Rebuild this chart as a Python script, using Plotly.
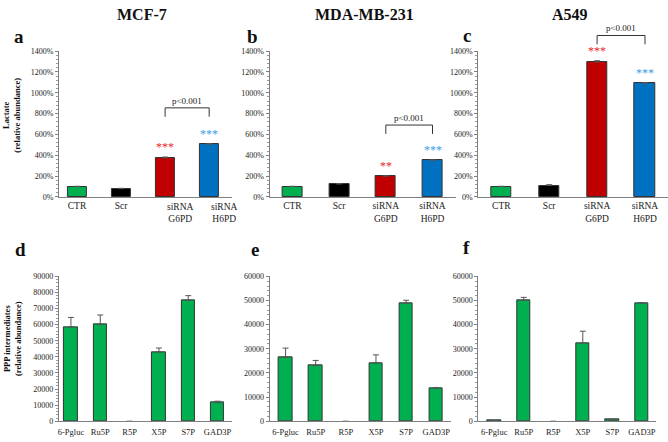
import plotly.graph_objects as go

# ---------------- data ----------------
cell_lines = ["MCF-7", "MDA-MB-231", "A549"]
panel_letters = ["a", "b", "c", "d", "e", "f"]

top_cats = ["CTR", "Scr", "siRNA<br>G6PD", "siRNA<br>H6PD"]
top_colors = ["#00b050", "#000000", "#c00000", "#0070c0"]

mcf7_lactate = [100, 80, 375, 505]
mcf7_lactate_err = [3, 3, 8, 8]
mda_lactate = [100, 125, 200, 350]
mda_lactate_err = [3, 4, 4, 8]
a549_lactate = [100, 110, 1295, 1090]
a549_lactate_err = [3, 8, 12, 8]

mcf7_stars = ["", "", "***", "***"]
mda_stars = ["", "", "**", "***"]
a549_stars = ["", "", "***", "***"]
star_colors = ["#e8262b", "#e8262b", "#e8262b", "#3d9be3"]

pvalue_text = "p<0.001"
bracket_top = [855, 690, 1549]   # bracket height (lactate %) per panel

ppp_cats = ["6-Pgluc", "Ru5P", "R5P", "X5P", "S7P", "GAD3P"]
mcf7_ppp = [58500, 60000, 0, 43000, 75000, 11500]
mcf7_ppp_err = [6000, 6000, 0, 2500, 3000, 1000]
mda_ppp = [26500, 23000, 0, 24200, 48800, 13800]
mda_ppp_err = [3800, 2200, 0, 3300, 1300, 0]
a549_ppp = [300, 50000, 0, 32300, 700, 49000]
a549_ppp_err = [0, 1300, 0, 5000, 0, 0]

# ---------------- layout geometry ----------------
W, H = 668, 442
FONT = "Times New Roman, Liberation Serif, DejaVu Serif, serif"

def px(x):
    return x / W

def py(y):
    return 1 - y / H

top_x_dom = [(58, 231), (269, 456), (478, 668)]
bot_x_dom = [(58, 231), (269, 451), (478, 656)]
top_y_dom = (197, 48)
bot_y_dom = (426, 278)
top_ranges = [[-0.41, 3.51], [-0.49, 3.51], [-0.48, 3.48]]
bot_ranges = [[-0.41, 5.48], [-0.53, 5.5], [-0.54, 5.48]]
bot_ymax = [90000, 60000, 60000]

fig = go.Figure()

top_vals = [mcf7_lactate, mda_lactate, a549_lactate]
top_errs = [mcf7_lactate_err, mda_lactate_err, a549_lactate_err]
top_stars = [mcf7_stars, mda_stars, a549_stars]
bot_vals = [mcf7_ppp, mda_ppp, a549_ppp]
bot_errs = [mcf7_ppp_err, mda_ppp_err, a549_ppp_err]

annotations = []
shapes = []

axis_common = dict(
    showline=True, linecolor="#7f7f7f", linewidth=1, showgrid=False,
    zeroline=False, tickfont=dict(family=FONT, size=8, color="#222"),
)

def note(**kw):
    base = dict(showarrow=False, xanchor="center", yanchor="middle")
    base.update(kw)
    annotations.append(base)

for i in range(3):
    # ---------- top row ----------
    n = 1 + i
    xa, ya = ("x" if n == 1 else f"x{n}"), ("y" if n == 1 else f"y{n}")
    labels = list(top_cats)
    if i == 0:
        # in panel a the siRNA labels sit offset to the right of their bars
        for k, l in enumerate(top_cats):
            if "siRNA" in l:
                note(x=k, xref=xa, xshift=15, y=py(top_y_dom[0]), yref="paper",
                     yanchor="top", yshift=-3, text=l,
                     font=dict(family=FONT, size=9.5, color="#222"))
        labels = ["" if "siRNA" in l else l for l in top_cats]
    fig.add_trace(go.Bar(
        x=list(range(4)), y=top_vals[i], xaxis=xa, yaxis=ya,
        marker=dict(color=top_colors, line=dict(color="#333333", width=1)),
        width=0.43,
        error_y=dict(type="data", symmetric=False, array=top_errs[i],
                     arrayminus=[0] * 4, color="#555555", thickness=1, width=3),
        showlegend=False, hoverinfo="skip",
    ))
    fig.update_layout(**{
        ("xaxis" if n == 1 else f"xaxis{n}"): dict(
            axis_common, domain=[px(top_x_dom[i][0]), px(top_x_dom[i][1])],
            anchor=ya, range=top_ranges[i], tickmode="array",
            tickvals=list(range(4)), ticktext=labels, ticks="", tickangle=0,
            tickfont=dict(family=FONT, size=9.5, color="#222"),
        ),
        ("yaxis" if n == 1 else f"yaxis{n}"): dict(
            axis_common, domain=[py(top_y_dom[0]), py(top_y_dom[1])],
            anchor=xa, range=[0, 1400], dtick=200, ticksuffix="%",
            ticks="outside", ticklen=3, tickcolor="#7f7f7f",
            minor=dict(dtick=40, ticks="outside", ticklen=2, tickcolor="#9a9a9a"),
        ),
    })
    y0p, y1p = py(top_y_dom[0]), py(top_y_dom[1])
    def frac(v, y0p=y0p, y1p=y1p):
        return y0p + (v / 1400) * (y1p - y0p)
    # stars
    for k in range(4):
        if top_stars[i][k]:
            note(x=k, y=frac(top_vals[i][k] + top_errs[i][k]), xref=xa, yref="paper",
                 text=top_stars[i][k], yanchor="bottom", yshift=1,
                 font=dict(family=FONT, size=12, color=star_colors[k]))
    # bracket
    bt = frac(bracket_top[i])
    leg = 9 / H
    shapes.append(dict(type="path", xref=xa, yref="paper",
                       path=f"M 2,{bt - leg} L 2,{bt} L 3,{bt} L 3,{bt - leg}",
                       line=dict(color="#333333", width=1)))
    note(x=2.5, y=bt, xref=xa, yref="paper", text=pvalue_text,
         yanchor="bottom", yshift=0,
         font=dict(family=FONT, size=9, color="#222"))

    # ---------- bottom row ----------
    m = 4 + i
    xb, yb = f"x{m}", f"y{m}"
    fig.add_trace(go.Bar(
        x=list(range(6)), y=bot_vals[i], xaxis=xb, yaxis=yb,
        marker=dict(color="#00b050",
                    line=dict(color="#333333", width=[1 if v > 0 else 0 for v in bot_vals[i]])),
        width=0.45,
        error_y=dict(type="data", symmetric=False, array=bot_errs[i],
                     arrayminus=[0] * 6, color="#555555", thickness=1, width=3),
        showlegend=False, hoverinfo="skip",
    ))
    fig.update_layout(**{
        f"xaxis{m}": dict(
            axis_common, domain=[px(bot_x_dom[i][0]), px(bot_x_dom[i][1])],
            anchor=yb, range=bot_ranges[i], tickmode="array",
            tickvals=list(range(6)), ticktext=ppp_cats, ticks="", tickangle=0,
            tickfont=dict(family=FONT, size=8.5, color="#222"), ticklabelstandoff=2,
        ),
        f"yaxis{m}": dict(
            axis_common, domain=[py(bot_y_dom[0]), py(bot_y_dom[1])],
            anchor=xb, range=[0, bot_ymax[i]], dtick=10000, tickformat="d",
            ticks="outside", ticklen=3, tickcolor="#7f7f7f",
            minor=dict(dtick=2000, ticks="outside", ticklen=2, tickcolor="#9a9a9a"),
        ),
    })

# titles
title_x = [141, 364, 570]
for i, name in enumerate(cell_lines):
    note(x=px(title_x[i]), y=py(11), xref="paper", yref="paper",
         text=f"<b>{name}</b>", font=dict(family=FONT, size=16, color="#111"))
letter_pos = [(18, 33), (252, 33), (467, 32), (20, 251), (254, 251), (466, 249)]
for L, (lx, ly) in zip(panel_letters, letter_pos):
    note(x=px(lx), y=py(ly), xref="paper", yref="paper",
         text=f"<b>{L}</b>", font=dict(family=FONT, size=19, color="#111"))
# y-axis titles
note(x=px(11), y=py(113), xref="paper", yref="paper",
     text="<b>Lactate<br>(relative abundance)</b>",
     textangle=-90, font=dict(family=FONT, size=8.5, color="#111"))
note(x=px(11), y=py(341), xref="paper", yref="paper",
     text="<b>PPP intermediates<br>(relative abundance)</b>",
     textangle=-90, font=dict(family=FONT, size=8.5, color="#111"))

fig.update_layout(
    width=W, height=H, margin=dict(l=0, r=0, t=0, b=0),
    paper_bgcolor="white", plot_bgcolor="white",
    annotations=annotations, shapes=shapes, bargap=0,
    font=dict(family=FONT),
)

fig.write_html("out.html", config={"displayModeBar": False},
               post_script="document.body.style.margin='0';document.body.style.overflow='hidden';")
